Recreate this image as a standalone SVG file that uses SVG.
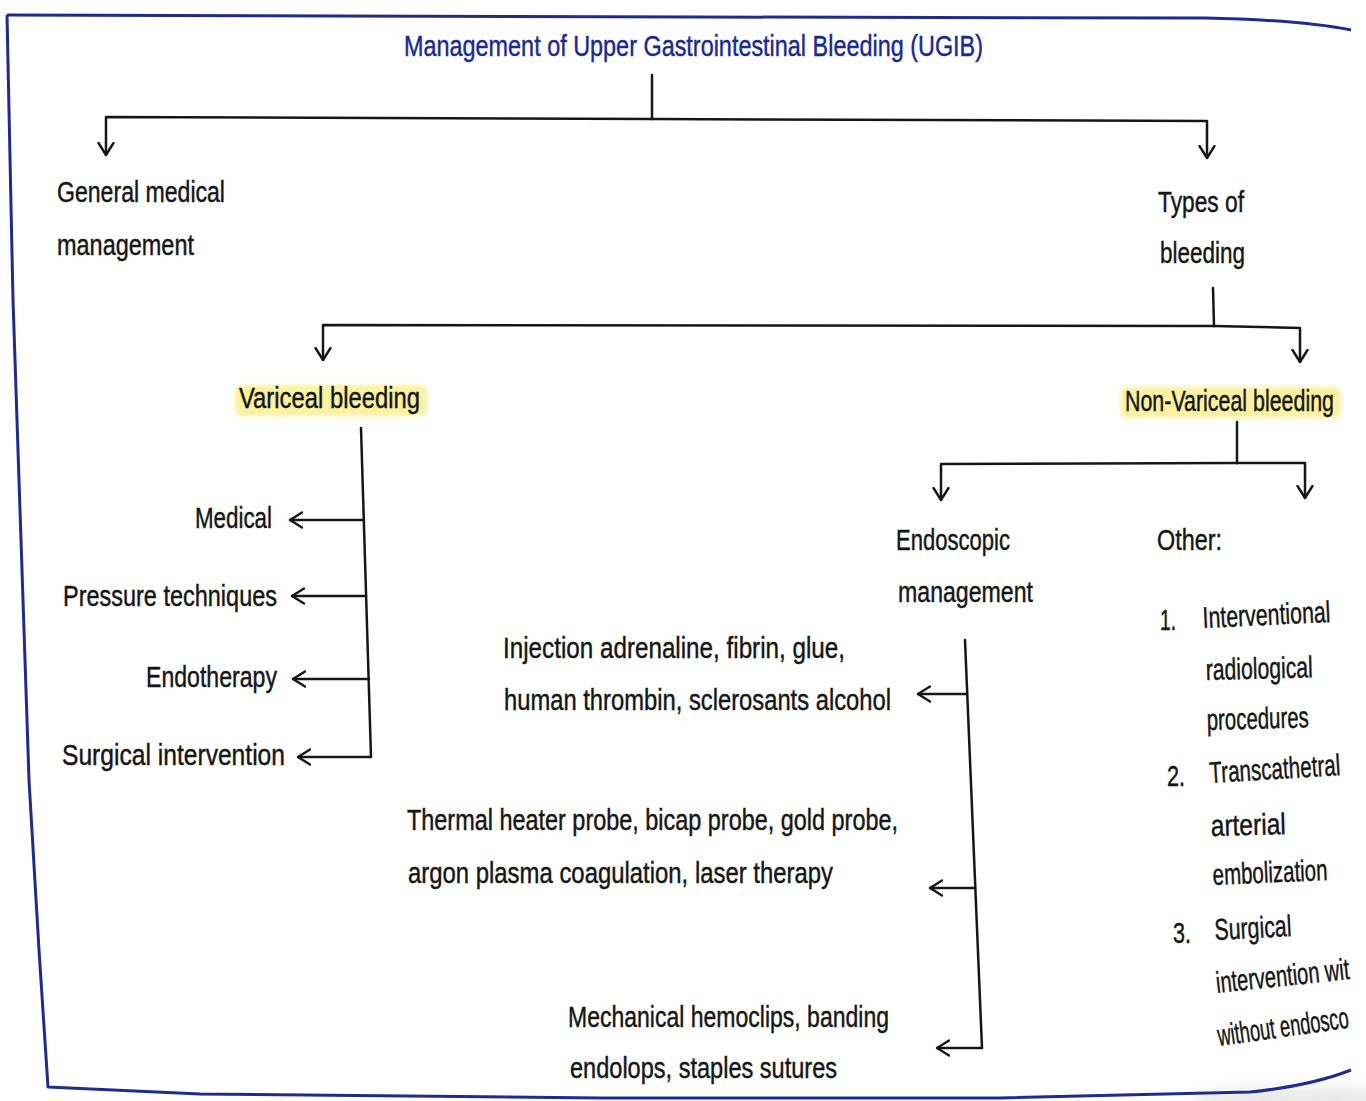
<svg xmlns="http://www.w3.org/2000/svg" width="1366" height="1101" viewBox="0 0 1366 1101">
  <defs>
    <style>
      .t { font-family: "Liberation Sans", Arial, sans-serif; font-size: 30px; fill: #161616; stroke: #161616; stroke-width: 0.45; }
      .title { fill: #1b2a8f; stroke: #1b2a8f; }
      .c { fill: none; stroke: #161616; stroke-width: 2.5; stroke-linecap: round; stroke-linejoin: round; }
      .frame { fill: none; stroke: #1f2c8c; stroke-width: 3; stroke-linejoin: round; }
      .hl { fill: #fbf1a0; filter: url(#soft); }
    </style>
    <filter id="soft" x="-10%" y="-30%" width="120%" height="160%">
      <feGaussianBlur stdDeviation="2"/>
    </filter>
    <filter id="shade" x="-20%" y="-50%" width="140%" height="200%">
      <feGaussianBlur stdDeviation="8"/>
    </filter>
    <!-- open chevron arrowhead -->
    <marker id="arr" viewBox="0 0 14 18" refX="13" refY="9" markerWidth="14" markerHeight="18" markerUnits="userSpaceOnUse" orient="auto">
      <path d="M1,1.5 L13,9 L1,16.5" fill="none" stroke="#161616" stroke-width="2.4" stroke-linecap="round" stroke-linejoin="round"/>
    </marker>
  </defs>

  <rect width="1366" height="1101" fill="#ffffff"/>
  <!-- paper shading at the lower right corner -->
  <ellipse cx="1300" cy="1102" rx="110" ry="14" fill="#dcdcdc" opacity="0.7" filter="url(#shade)"/>

  <!-- page frame -->
  <path class="frame" d="M7,15 L700,17 L1205,18 Q1300,20 1351,30"/>
  <path class="frame" d="M7,15 L13,300 L29,780 L39,950 L48,1087 L200,1094 L600,1098 L1000,1098 L1250,1092 Q1310,1086 1351,1070"/>

  <!-- connectors -->
  <g id="connectors">
    <path class="c" d="M652,75 L652,119"/>
    <path class="c" d="M652,119 L106,117 L106,155" marker-end="url(#arr)"/>
    <path class="c" d="M652,119 L1207,121 L1207,158" marker-end="url(#arr)"/>

    <path class="c" d="M1213,288 L1214,326"/>
    <path class="c" d="M1214,326 L323,325 L323,360" marker-end="url(#arr)"/>
    <path class="c" d="M1214,326 L1300,328 L1300,362" marker-end="url(#arr)"/>

    <path class="c" d="M361,428 L371,757 L298,757" marker-end="url(#arr)"/>
    <path class="c" d="M364,520 L290,520" marker-end="url(#arr)"/>
    <path class="c" d="M366,596 L292,596" marker-end="url(#arr)"/>
    <path class="c" d="M369,679 L293,679" marker-end="url(#arr)"/>

    <path class="c" d="M1237,422 L1237,463"/>
    <path class="c" d="M1237,463 L941,464 L941,500" marker-end="url(#arr)"/>
    <path class="c" d="M1237,463 L1305,463 L1305,498" marker-end="url(#arr)"/>

    <path class="c" d="M965,640 L982,1048 L937,1048" marker-end="url(#arr)"/>
    <path class="c" d="M967,694 L918,694" marker-end="url(#arr)"/>
    <path class="c" d="M975,888 L930,888" marker-end="url(#arr)"/>
  </g>

  <g id="title">
    <text class="t title" x="404" y="56" textLength="579" lengthAdjust="spacingAndGlyphs">Management of Upper Gastrointestinal Bleeding (UGIB)</text>
  </g>

  <g id="general-medical">
    <text class="t" x="57" y="202" textLength="168" lengthAdjust="spacingAndGlyphs">General medical</text>
    <text class="t" x="57" y="255" textLength="137" lengthAdjust="spacingAndGlyphs">management</text>
  </g>

  <g id="types-of-bleeding">
    <text class="t" x="1158" y="212" textLength="86" lengthAdjust="spacingAndGlyphs">Types of</text>
    <text class="t" x="1160" y="263" textLength="85" lengthAdjust="spacingAndGlyphs">bleeding</text>
  </g>

  <g id="variceal">
    <rect class="hl" x="235" y="385" width="192" height="31" rx="6"/>
    <text class="t" x="239" y="408" textLength="181" lengthAdjust="spacingAndGlyphs">Variceal bleeding</text>
  </g>

  <g id="medical">
    <text class="t" x="195" y="528" textLength="77" lengthAdjust="spacingAndGlyphs">Medical</text>
  </g>
  <g id="pressure">
    <text class="t" x="63" y="606" textLength="214" lengthAdjust="spacingAndGlyphs">Pressure techniques</text>
  </g>
  <g id="endotherapy">
    <text class="t" x="146" y="687" textLength="131" lengthAdjust="spacingAndGlyphs">Endotherapy</text>
  </g>
  <g id="surgical">
    <text class="t" x="62" y="765" textLength="223" lengthAdjust="spacingAndGlyphs">Surgical intervention</text>
  </g>

  <g id="non-variceal">
    <rect class="hl" x="1121" y="387" width="220" height="31" rx="6"/>
    <text class="t" x="1125" y="411" textLength="209" lengthAdjust="spacingAndGlyphs">Non-Variceal bleeding</text>
  </g>

  <g id="endoscopic">
    <text class="t" x="896" y="550" textLength="114" lengthAdjust="spacingAndGlyphs">Endoscopic</text>
    <text class="t" x="898" y="602" textLength="135" lengthAdjust="spacingAndGlyphs">management</text>
  </g>

  <g id="other">
    <text class="t" x="1157" y="550" textLength="65" lengthAdjust="spacingAndGlyphs">Other:</text>
    <text class="t" x="1160" y="630" textLength="16" lengthAdjust="spacingAndGlyphs">1.</text>
    <text class="t" x="1203" y="628" textLength="128" lengthAdjust="spacingAndGlyphs" transform="rotate(-2.7 1203 628)">Interventional</text>
    <text class="t" x="1206" y="680" textLength="107" lengthAdjust="spacingAndGlyphs" transform="rotate(-1.5 1206 680)">radiological</text>
    <text class="t" x="1207" y="730" textLength="102" lengthAdjust="spacingAndGlyphs" transform="rotate(-1.5 1207 730)">procedures</text>
    <text class="t" x="1167" y="786" textLength="18" lengthAdjust="spacingAndGlyphs">2.</text>
    <text class="t" x="1210" y="783" textLength="131" lengthAdjust="spacingAndGlyphs" transform="rotate(-3.5 1210 783)">Transcathetral</text>
    <text class="t" x="1211" y="836" textLength="75" lengthAdjust="spacingAndGlyphs" transform="rotate(-1.5 1211 836)">arterial</text>
    <text class="t" x="1213" y="885" textLength="115" lengthAdjust="spacingAndGlyphs" transform="rotate(-2.5 1213 885)">embolization</text>
    <text class="t" x="1173" y="943" textLength="18" lengthAdjust="spacingAndGlyphs">3.</text>
    <text class="t" x="1215" y="940" textLength="77" lengthAdjust="spacingAndGlyphs" transform="rotate(-3 1215 940)">Surgical</text>
    <text class="t" x="1217" y="993" textLength="134" lengthAdjust="spacingAndGlyphs" transform="rotate(-6 1217 993)">intervention wit</text>
    <text class="t" x="1219" y="1046" textLength="132" lengthAdjust="spacingAndGlyphs" transform="rotate(-8 1219 1046)">without endosco</text>
  </g>

  <g id="injection">
    <text class="t" x="503" y="658" textLength="342" lengthAdjust="spacingAndGlyphs">Injection adrenaline, fibrin, glue,</text>
    <text class="t" x="504" y="710" textLength="387" lengthAdjust="spacingAndGlyphs">human thrombin, sclerosants alcohol</text>
  </g>

  <g id="thermal">
    <text class="t" x="407" y="830" textLength="491" lengthAdjust="spacingAndGlyphs">Thermal heater probe, bicap probe, gold probe,</text>
    <text class="t" x="408" y="883" textLength="425" lengthAdjust="spacingAndGlyphs">argon plasma coagulation, laser therapy</text>
  </g>

  <g id="mechanical">
    <text class="t" x="568" y="1027" textLength="321" lengthAdjust="spacingAndGlyphs">Mechanical hemoclips, banding</text>
    <text class="t" x="570" y="1078" textLength="267" lengthAdjust="spacingAndGlyphs">endolops, staples sutures</text>
  </g>
</svg>
